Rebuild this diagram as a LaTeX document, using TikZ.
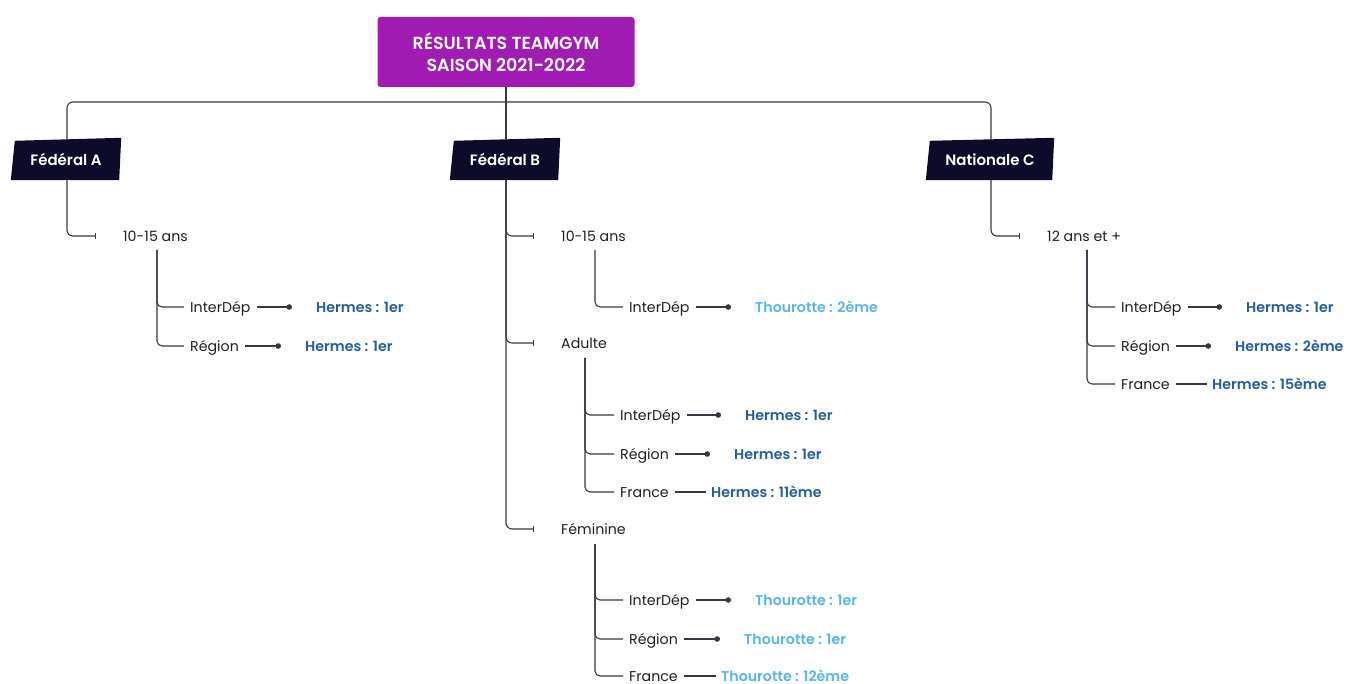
\documentclass[tikz,border=0pt]{standalone}
\usepackage{fontspec}
\setmainfont{Poppins}
\newfontfamily\semib{Poppins SemiBold}
\usetikzlibrary{arrows.meta,backgrounds}
\definecolor{titlepurple}{RGB}{160,28,178}
\definecolor{navy}{RGB}{12,11,42}
\definecolor{linec}{RGB}{55,55,70}
\definecolor{hermesblue}{RGB}{40,92,150}
\definecolor{thoublue}{RGB}{88,180,232}
\definecolor{txt}{RGB}{30,30,40}
\tikzset{
  every node/.style={inner sep=0pt, text height=11pt, text depth=0pt},
  lbl/.style={anchor=west, text=txt, font=\fontsize{14.2}{16}\selectfont},
  res/.style={anchor=west, font=\semib\fontsize{14.2}{16}\selectfont},
  hermes/.style={res, text=hermesblue},
  thou/.style={res, text=thoublue},
  catbox/.style={text=white, font=\semib\fontsize{15}{16}\selectfont, minimum height=40pt},
  wire/.style={draw=linec, line width=1.1pt},
  branch/.style={wire, rounded corners=6pt, -{Bar[width=6pt,line width=1.1pt]}},
  twig/.style={wire, rounded corners=5pt},
  dotline/.style={wire, -{Circle[length=5.5pt,width=5.5pt]}, shorten <=6pt, shorten >=24pt},
  plainline/.style={wire, shorten <=6pt, shorten >=5pt},
}
\newcommand{\catfill}[1]{%
  \begin{scope}[on background layer]
    \fill[navy] ([xshift=4pt,yshift=-1pt]#1.north west) -- ([yshift=2pt]#1.north east)
      -- ([xshift=-2pt]#1.south east) -- (#1.south west) -- cycle;
  \end{scope}}
\begin{document}
\begin{tikzpicture}[x=1pt,y=-1pt]
\useasboundingbox (0,0) rectangle (1349,684);
% title
\node[fill=titlepurple, rounded corners=3pt, minimum width=257pt, minimum height=70pt,
  text=white, align=center, font=\semib\fontsize{17.5}{22}\selectfont, text height=, text depth=]
  (title) at (506,52) {RÉSULTATS TEAMGYM\\SAISON 2021-2022};
% categories
\node[catbox, minimum width=110pt] (fa) at (66,160) {Fédéral A};
\node[catbox, minimum width=110pt] (fb) at (505,160) {Fédéral B};
\node[catbox, minimum width=128pt] (nc) at (990,160) {Nationale C};
\catfill{fa}\catfill{fb}\catfill{nc}
\coordinate (bar) at (506,102);
\draw[wire, rounded corners=6pt] (fa.north -| 67,0) |- (bar) -| (nc.north -| 991,0);
\draw[wire] (title.south) -- (fb.north -| 506,0);

% ---- Fédéral A
\node[lbl] (a1) at (123,236) {10-15 ans};
\coordinate (fat) at (67,180);
\draw[branch] (fat) |- ([xshift=-27pt]a1.west);
\coordinate (a1v) at (157,250);
\node[lbl] (a11) at (190,307) {InterDép};
\node[lbl] (a12) at (190,346) {Région};
\node[hermes] (ra11) at (316,307) {Hermes : 1er};
\node[hermes] (ra12) at (305,346) {Hermes : 1er};
\draw[twig] (a1v) |- ([xshift=-6pt]a11.west);
\draw[twig] (a1v) |- ([xshift=-6pt]a12.west);
\draw[dotline] (a11.east) -- (ra11.west);
\draw[dotline] (a12.east) -- (ra12.west);

% ---- Fédéral B
\coordinate (fbt) at (506,180);
\node[lbl] (b1) at (561,236) {10-15 ans};
\node[lbl] (b2) at (561,343) {Adulte};
\node[lbl] (b3) at (561,529) {Féminine};
\draw[branch] (fbt) |- ([xshift=-27pt]b1.west);
\draw[branch] (fbt) |- ([xshift=-27pt]b2.west);
\draw[branch] (fbt) |- ([xshift=-27pt]b3.west);
% 10-15 ans
\coordinate (b1v) at (595,250);
\node[lbl] (b11) at (629,307) {InterDép};
\node[thou] (rb11) at (755,307) {Thourotte : 2ème};
\draw[twig] (b1v) |- ([xshift=-6pt]b11.west);
\draw[dotline] (b11.east) -- (rb11.west);
% Adulte
\coordinate (b2v) at (585,358);
\node[lbl] (b21) at (620,415) {InterDép};
\node[lbl] (b22) at (620,454) {Région};
\node[lbl] (b23) at (620,492) {France};
\node[hermes] (rb21) at (745,415) {Hermes : 1er};
\node[hermes] (rb22) at (734,454) {Hermes : 1er};
\node[hermes] (rb23) at (711,492) {Hermes : 11ème};
\draw[twig] (b2v) |- ([xshift=-6pt]b21.west);
\draw[twig] (b2v) |- ([xshift=-6pt]b22.west);
\draw[twig] (b2v) |- ([xshift=-6pt]b23.west);
\draw[dotline] (b21.east) -- (rb21.west);
\draw[dotline] (b22.east) -- (rb22.west);
\draw[plainline] (b23.east) -- (rb23.west);
% Féminine
\coordinate (b3v) at (595,544);
\node[lbl] (b31) at (629,600) {InterDép};
\node[lbl] (b32) at (629,639) {Région};
\node[lbl] (b33) at (629,676) {France};
\node[thou] (rb31) at (755,600) {Thourotte : 1er};
\node[thou] (rb32) at (744,639) {Thourotte : 1er};
\node[thou] (rb33) at (721,676) {Thourotte : 12ème};
\draw[twig] (b3v) |- ([xshift=-6pt]b31.west);
\draw[twig] (b3v) |- ([xshift=-6pt]b32.west);
\draw[twig] (b3v) |- ([xshift=-6pt]b33.west);
\draw[dotline] (b31.east) -- (rb31.west);
\draw[dotline] (b32.east) -- (rb32.west);
\draw[plainline] (b33.east) -- (rb33.west);

% ---- Nationale C
\coordinate (nct) at (991,180);
\node[lbl] (c1) at (1047,236) {12 ans et +};
\draw[branch] (nct) |- ([xshift=-27pt]c1.west);
\coordinate (c1v) at (1087,250);
\node[lbl] (c11) at (1121,307) {InterDép};
\node[lbl] (c12) at (1121,346) {Région};
\node[lbl] (c13) at (1121,384) {France};
\node[hermes] (rc11) at (1246,307) {Hermes : 1er};
\node[hermes] (rc12) at (1235,346) {Hermes : 2ème};
\node[hermes] (rc13) at (1212,384) {Hermes : 15ème};
\draw[twig] (c1v) |- ([xshift=-6pt]c11.west);
\draw[twig] (c1v) |- ([xshift=-6pt]c12.west);
\draw[twig] (c1v) |- ([xshift=-6pt]c13.west);
\draw[dotline] (c11.east) -- (rc11.west);
\draw[dotline] (c12.east) -- (rc12.west);
\draw[plainline] (c13.east) -- (rc13.west);
\end{tikzpicture}
\end{document}
